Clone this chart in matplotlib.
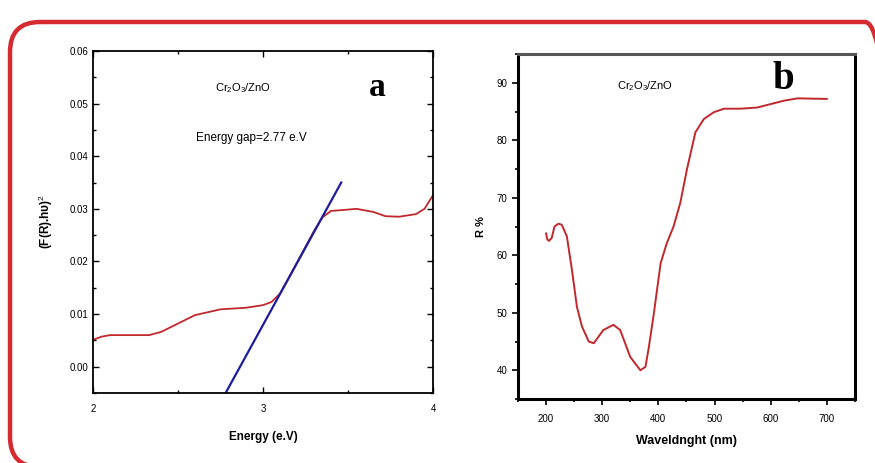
import numpy as np
import matplotlib
matplotlib.use('Agg')
import matplotlib.pyplot as plt
from matplotlib.patches import FancyBboxPatch
from matplotlib.ticker import MultipleLocator

plt.rcParams['font.family'] = ['Liberation Sans', 'DejaVu Sans']
plt.rcParams['mathtext.fontset'] = 'custom'
plt.rcParams['mathtext.rm'] = 'Liberation Sans'
plt.rcParams['mathtext.default'] = 'rm'

# panel a: Tauc plot
energy = [2.00, 2.05, 2.10, 2.20, 2.33, 2.40, 2.50, 2.60, 2.75, 2.90, 3.00, 3.05,
          3.10, 3.15, 3.20, 3.25, 3.30, 3.35, 3.40, 3.48, 3.55, 3.65, 3.72, 3.80,
          3.90, 3.95, 4.00]
fr_hv2 = [0.0051, 0.0057, 0.0060, 0.0060, 0.0060, 0.0066, 0.0082, 0.0098, 0.0109,
          0.0112, 0.0117, 0.0123, 0.0139, 0.0168, 0.0198, 0.0228, 0.0258, 0.0284,
          0.0296, 0.0298, 0.0300, 0.0294, 0.0286, 0.0285, 0.0290, 0.0300, 0.0326]
fit_x = [2.78, 3.46]
fit_y = [-0.005, 0.035]

# panel b: reflectance
wavelength = [200, 202, 205, 210, 215, 222, 228, 237, 246, 255, 264, 276, 285,
              302, 320, 332, 350, 368, 377, 383, 392, 404, 415, 427, 439, 451,
              466, 481, 499, 517, 546, 576, 600, 624, 648, 700]
refl = [63.8, 62.8, 62.5, 63.0, 65.0, 65.5, 65.3, 63.3, 57.5, 51.0, 47.6, 45.0,
        44.7, 47.0, 47.9, 47.0, 42.3, 40.0, 40.6, 44.0, 49.9, 58.6, 62.1, 65.0,
        69.1, 75.0, 81.4, 83.7, 84.9, 85.5, 85.5, 85.7, 86.3, 86.9, 87.3, 87.2]

red = '#c0282d'
fig = plt.figure(figsize=(8.75, 4.63), dpi=100)

border = FancyBboxPatch((0.10, -0.04), 8.85, 4.45, boxstyle='round,pad=0,rounding_size=0.3',
                        transform=fig.dpi_scale_trans, fill=False, edgecolor='#d42a30',
                        linewidth=3.2)
fig.patches.append(border)

# ---- a ----
ax1 = fig.add_axes([0.1063, 0.1512, 0.3886, 0.7387])
ax1.plot(energy, fr_hv2, color=red, lw=1.3)
ax1.plot(fit_x, fit_y, color='#1c1c9c', lw=1.6)
ax1.set_xlim(2, 4)
ax1.set_ylim(-0.005, 0.06)
ax1.xaxis.set_major_locator(MultipleLocator(1))
ax1.xaxis.set_minor_locator(MultipleLocator(0.5))
ax1.yaxis.set_minor_locator(MultipleLocator(0.005))
ax1.set_yticks(np.arange(0, 0.061, 0.01))
ax1.set_yticklabels(['0.00', '0.01', '0.02', '0.03', '0.04', '0.05', '0.06'])
ax1.tick_params(which='both', direction='in', top=True, right=True, labelsize=7, width=1)
ax1.tick_params(which='major', length=4)
ax1.tick_params(which='minor', length=2.5)
ax1.tick_params(axis='x', pad=8)
for s in ax1.spines.values():
    s.set_linewidth(1.3)
ax1.set_xlabel('Energy (e.V)', fontsize=8.5, fontweight='bold', labelpad=12)
ax1.set_ylabel('(F(R).hυ)$^2$', fontsize=8.5, fontweight='bold', labelpad=10)
ax1.text(2.88, 0.053, 'Cr$_2$O$_3$/ZnO', fontsize=8, ha='center', va='center')
ax1.text(2.93, 0.0435, 'Energy gap=2.77 e.V', fontsize=8.5, ha='center', va='center')
ax1.text(3.67, 0.053, 'a', fontsize=24, fontweight='bold', family='Liberation Serif',
         ha='center', va='center')

# ---- b ----
ax2 = fig.add_axes([0.592, 0.1382, 0.385, 0.745])
ax2.plot(wavelength, refl, color=red, lw=1.4)
ax2.set_xlim(150, 750)
ax2.set_ylim(35, 95)
ax2.set_xticks([200, 300, 400, 500, 600, 700])
ax2.set_yticks([40, 50, 60, 70, 80, 90])
ax2.xaxis.set_minor_locator(MultipleLocator(50))
ax2.yaxis.set_minor_locator(MultipleLocator(5))
ax2.tick_params(which='both', direction='out', labelsize=7, width=1.2)
ax2.tick_params(which='major', length=4)
ax2.tick_params(which='minor', length=2.5)
ax2.tick_params(axis='x', pad=7)
for s in ax2.spines.values():
    s.set_linewidth(2.2)
ax2.spines['top'].set_color('#555555')
ax2.set_xlabel('Waveldnght (nm)', fontsize=9, fontweight='bold', labelpad=8)
ax2.set_ylabel('R %', fontsize=8, fontweight='bold', labelpad=8)
ax2.text(377, 89.5, 'Cr$_2$O$_3$/ZnO', fontsize=8, ha='center', va='center')
ax2.text(623, 90.5, 'b', fontsize=28, fontweight='bold', family='Liberation Serif',
         ha='center', va='center')

fig.savefig('out.png', dpi=100)
